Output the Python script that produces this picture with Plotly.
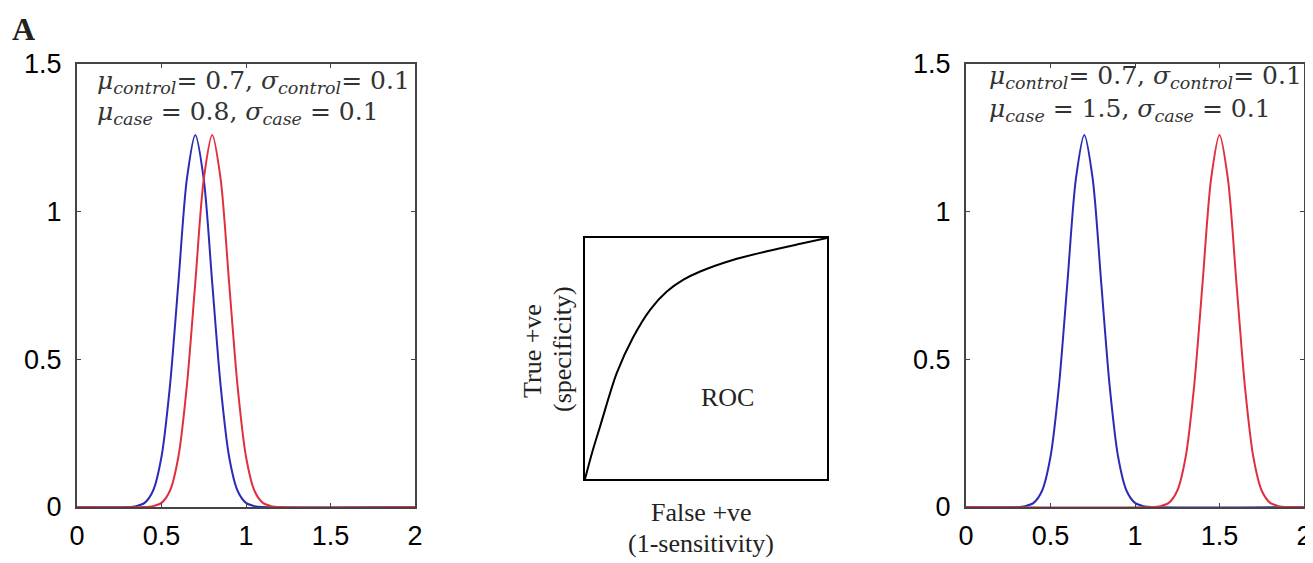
import plotly.graph_objects as go

# ---- data ----
x_ctrl = [0, 0.30, 0.35, 0.40, 0.45, 0.50, 0.55, 0.60, 0.65, 0.70, 0.75, 0.80, 0.85, 0.90, 0.95, 1.00, 1.05, 1.10, 2.0]
y_ctrl = [0, 0, 0.003, 0.014, 0.055, 0.17, 0.41, 0.76, 1.11, 1.26, 1.11, 0.76, 0.41, 0.17, 0.055, 0.014, 0.003, 0, 0]

x_case_a = [0, 0.40, 0.45, 0.50, 0.55, 0.60, 0.65, 0.70, 0.75, 0.80, 0.85, 0.90, 0.95, 1.00, 1.05, 1.10, 1.15, 1.20, 2.0]
y_case_a = [0, 0, 0.003, 0.014, 0.055, 0.17, 0.41, 0.76, 1.11, 1.26, 1.11, 0.76, 0.41, 0.17, 0.055, 0.014, 0.003, 0, 0]

x_case_b = [0, 1.10, 1.15, 1.20, 1.25, 1.30, 1.35, 1.40, 1.45, 1.50, 1.55, 1.60, 1.65, 1.70, 1.75, 1.80, 1.85, 1.90, 2.0]
y_case_b = [0, 0, 0.003, 0.014, 0.055, 0.17, 0.41, 0.76, 1.11, 1.26, 1.11, 0.76, 0.41, 0.17, 0.055, 0.014, 0.003, 0, 0]

roc_fpr = [0, 0.031, 0.062, 0.131, 0.200, 0.269, 0.338, 0.407, 0.476, 0.614, 0.752, 0.890, 1.0]
roc_tpr = [0, 0.115, 0.217, 0.439, 0.590, 0.702, 0.778, 0.827, 0.861, 0.910, 0.945, 0.976, 1.0]

x_ticks = [0, 0.5, 1, 1.5, 2]
x_ticklabels = ["0", "0.5", "1", "1.5", "2"]
y_ticks = [0, 0.5, 1, 1.5]
y_ticklabels = ["0", "0.5", "1", "1.5"]

BLUE = "#2b2bb8"
RED = "#e03040"
W, H = 1313, 563
OFF = 8  # page body margin

def px(x):
    return (x - OFF) / W

def py(y):
    return 1 - (y - OFF) / H

fig = go.Figure()

# left panel
fig.add_trace(go.Scatter(x=x_ctrl, y=y_ctrl, mode="lines", line=dict(color=BLUE, width=2, shape="spline", smoothing=0.8), xaxis="x", yaxis="y", showlegend=False))
fig.add_trace(go.Scatter(x=x_case_a, y=y_case_a, mode="lines", line=dict(color=RED, width=2, shape="spline", smoothing=0.8), xaxis="x", yaxis="y", showlegend=False))
# middle ROC panel
fig.add_trace(go.Scatter(x=roc_fpr, y=roc_tpr, mode="lines", line=dict(color="black", width=2, shape="spline", smoothing=0.8), xaxis="x2", yaxis="y2", showlegend=False))
# right panel
fig.add_trace(go.Scatter(x=x_ctrl, y=y_ctrl, mode="lines", line=dict(color=BLUE, width=2, shape="spline", smoothing=0.8), xaxis="x3", yaxis="y3", showlegend=False))
fig.add_trace(go.Scatter(x=x_case_b, y=y_case_b, mode="lines", line=dict(color=RED, width=2, shape="spline", smoothing=0.8), xaxis="x3", yaxis="y3", showlegend=False))

tickfont = dict(family="Liberation Sans, Arial", size=27, color="black")
common_x = dict(range=[0, 2], tickvals=x_ticks, ticktext=x_ticklabels, showline=True, linecolor="#444", linewidth=2,
                mirror="ticks", ticks="inside", ticklen=4, tickcolor="#444", showgrid=False, zeroline=False,
                tickfont=tickfont, ticklabelstandoff=4, automargin=False)
common_y = dict(range=[0, 1.5], tickvals=y_ticks, ticktext=y_ticklabels, showline=True, linecolor="#444", linewidth=2,
                mirror="ticks", ticks="inside", ticklen=4, tickcolor="#444", showgrid=False, zeroline=False,
                tickfont=tickfont, ticklabelstandoff=8, automargin=False)

ydom = [py(507), py(64)]
fig.update_layout(
    width=W, height=H, margin=dict(l=0, r=0, t=0, b=0, autoexpand=False),
    paper_bgcolor="white", plot_bgcolor="white",
    xaxis=dict(domain=[px(77), px(415)], anchor="y", **common_x),
    yaxis=dict(domain=ydom, anchor="x", **common_y),
    xaxis3=dict(domain=[px(966), px(1304)], anchor="y3", **common_x),
    yaxis3=dict(domain=ydom, anchor="x3", **common_y),
    xaxis2=dict(domain=[px(585), px(827)], anchor="y2", range=[0, 1], showline=True, linecolor="black", linewidth=2,
                mirror=True, showticklabels=False, ticks="", showgrid=False, zeroline=False, automargin=False),
    yaxis2=dict(domain=[py(479), py(238)], anchor="x2", range=[0, 1], showline=True, linecolor="black", linewidth=2,
                mirror=True, showticklabels=False, ticks="", showgrid=False, zeroline=False, automargin=False),
)

serif = dict(family="Liberation Serif, Times New Roman, serif", size=26, color="#222")
mfont = dict(family="DejaVu Serif, serif", size=25, color="#333")

def ann(x, y, text, font, xanchor="center", textangle=0):
    fig.add_annotation(x=x, y=y, xref="paper", yref="paper", text=text, showarrow=False,
                       xanchor=xanchor, yanchor="middle", font=font, textangle=textangle)

line_ctrl = "<i>μ<sub>control</sub></i>= 0.7, <i>σ<sub>control</sub></i>= 0.1"
ann(px(95), py(82), line_ctrl, mfont, xanchor="left")
ann(px(95), py(113), "<i>μ<sub>case</sub></i> = 0.8, <i>σ<sub>case</sub></i> = 0.1", mfont, xanchor="left")
ann(px(987), py(77), line_ctrl, mfont, xanchor="left")
ann(px(987), py(110), "<i>μ<sub>case</sub></i> = 1.5, <i>σ<sub>case</sub></i> = 0.1", mfont, xanchor="left")

ann(px(23), py(29), "<b>A</b>", dict(family="Liberation Serif, Times New Roman, serif", size=32, color="#222"))

ann(px(532), py(351), "True +ve", serif, textangle=-90)
ann(px(562), py(349), "(specificity)", serif, textangle=-90)
ann(px(727), py(397), "ROC", serif)
ann(px(701), py(513), "False +ve", serif)
ann(px(701), py(543), "(1-sensitivity)", serif)

fig.write_html("out.html")
